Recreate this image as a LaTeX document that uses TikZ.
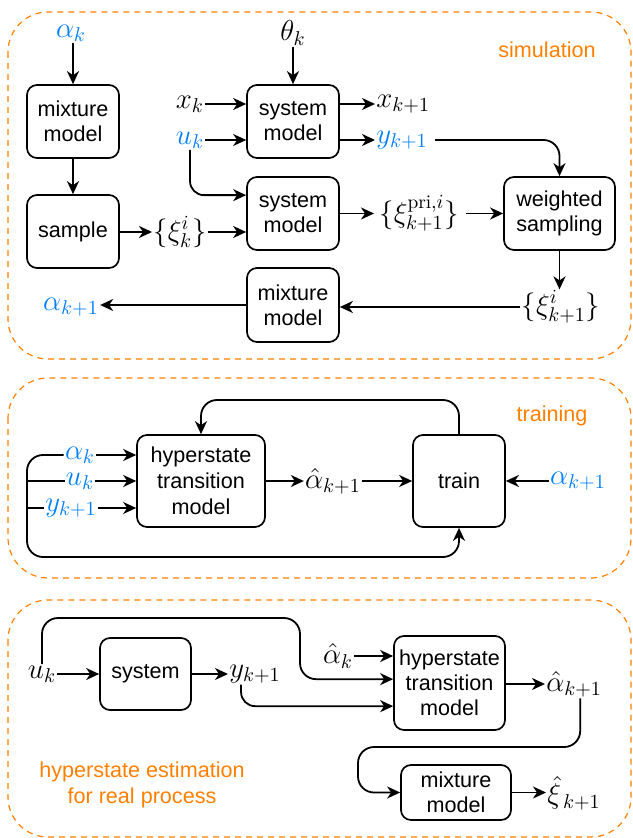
\documentclass[tikz,border=0pt]{standalone}
\usepackage{fontspec}
\newfontfamily\boxfont{Liberation Sans}
\usetikzlibrary{arrows.meta}
\definecolor{myblue}{RGB}{0,127,255}
\definecolor{myorange}{RGB}{255,128,0}
\begin{document}
\begin{tikzpicture}[x=0.5pt,y=-0.5pt,
 box/.style={draw, rounded corners=5pt, line width=0.85pt, align=center, font=\boxfont\fontsize{10.8}{12.5}\selectfont, inner sep=0pt},
 lbl/.style={inner sep=0.5pt, font=\fontsize{13.8}{15}\selectfont},
 blbl/.style={lbl, text=myblue},
 arr/.style={-{Stealth[length=6.5pt,width=6pt,inset=2pt]}, line width=0.9pt},
 ln/.style={line width=0.9pt},
 panel/.style={draw=myorange, dash pattern=on 3pt off 2.5pt, line width=0.6pt, rounded corners=20pt},
 ttl/.style={text=myorange, font=\boxfont\fontsize{10.8}{13}\selectfont, align=center}]
\useasboundingbox (0,0) rectangle (632,838);

% ---------------- simulation ----------------
\draw[panel] (8,12) rectangle (631,359);
\node[ttl] (tsim) at (547,50) {simulation};

\node[box, minimum width=46pt, minimum height=36.5pt] (mm1) at (73,121.5) {mixture\\model};
\node[box, minimum width=46pt, minimum height=36.5pt] (smp) at (73,231.5) {sample};
\node[box, minimum width=46pt, minimum height=36.5pt] (sys1) at (293,121.5) {system\\model};
\node[box, minimum width=46pt, minimum height=36.5pt] (sys2) at (293,213.5) {system\\model};
\node[box, minimum width=55.5pt, minimum height=36.5pt] (ws) at (559.5,213.5) {weighted\\sampling};
\node[box, minimum width=46pt, minimum height=37pt] (mm2) at (293,305) {mixture\\model};

\node[blbl] (ak) at (71,33) {$\alpha_k$};
\node[lbl] (th) at (293,33) {$\theta_k$};
\node[lbl] (xk) at (190,104) {$x_k$};
\node[blbl] (uk) at (190,140) {$u_k$};
\node[lbl] (xik) at (180,232) {$\{\xi_k^i\}$};
\node[lbl, anchor=west] (xk1) at (375,104) {$x_{k+1}$};
\node[blbl, anchor=west] (yk1) at (375,140) {$y_{k+1}$};
\node[lbl, anchor=west] (xipri) at (378,213.5) {$\{\xi_{k+1}^{\mathrm{pri},i}\}$};
\node[lbl] (xik1) at (561,307) {$\{\xi_{k+1}^{i}\}$};
\node[blbl] (ak1) at (71,307) {$\alpha_{k+1}$};

\draw[arr] (ak.south -| mm1.north) -- (mm1.north);
\draw[arr] (th) -- (sys1.north);
\draw[arr] (mm1) -- (smp);
\draw[arr] (smp.east |- xik) -- (xik.west);
\draw[arr] (xik.east) -- (xik.east -| sys2.west);
\draw[arr] (xk.east) -- (xk.east -| sys1.west);
\draw[arr] (uk.east) -- (uk.east -| sys1.west);
\draw[arr, rounded corners=7pt] (uk.south) |- ([yshift=-9.5pt]sys2.north west);
\draw[arr] (sys1.east |- xk1) -- (xk1.west);
\draw[arr] (sys1.east |- yk1) -- (yk1.west);
\draw[arr, rounded corners=8pt] ([xshift=3pt]yk1.east) -| (ws.north);
\draw[arr] (sys2.east) -- ([xshift=-2pt]xipri.west);
\draw[arr] ([xshift=3pt]xipri.east) -- (ws.west);
\draw[arr] (ws.south) -- (ws.south |- xik1.north);
\draw[arr] (xik1.west) -- (xik1.west -| mm2.east);
\draw[arr] (mm2.west) -- (mm2.west -| ak1.east);

% ---------------- training ----------------
\draw[panel] (8,378) rectangle (631,578);
\node[ttl] (ttr) at (552,416) {training};

\node[box, minimum width=64pt, minimum height=46pt, font=\boxfont\fontsize{10.8}{13}\selectfont] (htm) at (201,481) {hyperstate\\transition\\model};
\node[box, minimum width=46pt, minimum height=46pt] (trn) at (459,481) {train};

\node[blbl] (ak2) at (80,455) {$\alpha_k$};
\node[blbl] (uk2) at (80,481) {$u_k$};
\node[blbl] (yk2) at (71,508) {$y_{k+1}$};
\node[lbl] (ah) at (333,481) {$\hat{\alpha}_{k+1}$};
\node[blbl] (ak1b) at (578,481) {$\alpha_{k+1}$};
\coordinate (lb) at (27,557);
\coordinate (tp) at (459,400);

\draw[arr] (ak2.east) -- (ak2.east -| htm.west);
\draw[arr] (uk2.east) -- (uk2.east -| htm.west);
\draw[arr] (yk2.east) -- (yk2.east -| htm.west);
\draw[arr, rounded corners=8pt] (ak2.west) -| (lb) -| (trn.south);
\draw[ln] (uk2.west) -- (uk2.west -| lb);
\draw[ln] (yk2.west) -- (yk2.west -| lb);
\draw[arr] (htm.east) -- (ah.west);
\draw[arr] (ah.east) -- (trn.west);
\draw[arr] (ak1b.west) -- (trn.east);
\draw[arr, rounded corners=8pt] (trn.north) -- (tp) -| (htm.north);

% ---------------- estimation ----------------
\draw[panel] (8,600) rectangle (631,837);
\node[ttl] (test) at (142,785) {hyperstate estimation\\for real process};

\node[box, minimum width=45.5pt, minimum height=36pt] (sysb) at (145.5,674) {system};
\node[box, minimum width=55.5pt, minimum height=47pt, font=\boxfont\fontsize{10.8}{12.5}\selectfont] (htmb) at (449.5,683) {hyperstate\\transition\\model};
\node[box, minimum width=55pt, minimum height=27.5pt] (mmb) at (456,792.5) {mixture\\model};

\node[lbl] (uk3) at (42,674) {$u_k$};
\node[lbl, anchor=west] (yk3) at (228,674) {$y_{k+1}$};
\node[lbl] (ahk) at (338,656) {$\hat{\alpha}_k$};
\node[lbl, anchor=west] (ahk1) at (545,684) {$\hat{\alpha}_{k+1}$};
\node[lbl, anchor=west] (xih) at (546,793) {$\hat{\xi}_{\,k+1}$};
\coordinate (c1) at (300,618);
\coordinate (d1) at (358,747);

\draw[arr] (uk3.east) -- (sysb.west);
\draw[arr] (sysb.east) -- (yk3.west);
\draw[arr, rounded corners=8pt] (uk3.north) |- (c1) |- ([yshift=-22pt]htmb.north west);
\draw[arr, rounded corners=7pt] ([xshift=-7pt]yk3.south) |- ([yshift=-35.5pt]htmb.north west);
\draw[arr] (ahk.east) -- (ahk.east -| htmb.west);
\draw[arr] (htmb.east |- ahk1) -- (ahk1.west);
\draw[arr, rounded corners=8pt] ([xshift=3pt]ahk1.south) |- (d1) |- (mmb.west);
\draw[arr] (mmb.east) -- (mmb.east -| xih.west);
\end{tikzpicture}
\end{document}
